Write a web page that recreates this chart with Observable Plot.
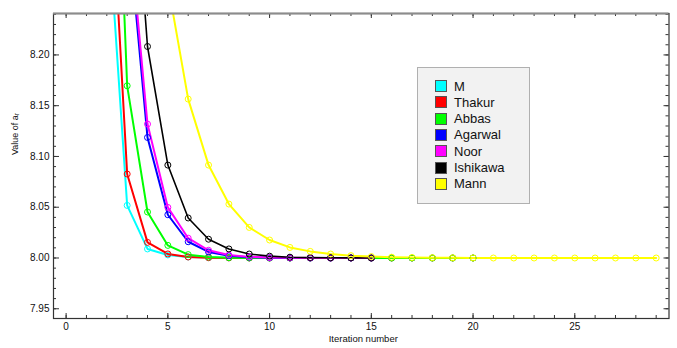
<!DOCTYPE html>
<html><head><meta charset="utf-8">
<script src="https://cdn.jsdelivr.net/npm/d3@7"></script>
<script src="https://cdn.jsdelivr.net/npm/@observablehq/plot@0.6"></script>
<style>
body{margin:0;background:#fff;}
#wrap{position:relative;width:677px;height:348px;}
#legend{position:absolute;left:417px;top:67px;width:113px;height:137px;background:#f2f2f2;border:1.5px solid #b0b0b0;box-sizing:border-box;font-family:"Liberation Sans",Arial,sans-serif;font-size:13px;color:#111;}
.item{position:absolute;left:17px;height:16px;line-height:16px;white-space:nowrap;}
.sw{display:inline-block;width:12px;height:12px;box-sizing:border-box;border:1px solid #555;vertical-align:middle;margin-right:7px;position:relative;top:-1px;}
</style>
</head><body>
<div id="wrap"><div id="chart"></div><div id="legend"></div></div>
<script>
// ---- data ----
const seriesNames = ["M", "Thakur", "Abbas", "Agarwal", "Noor", "Ishikawa", "Mann"];
const seriesColors = ["#00ffff", "#ff0000", "#00ff00", "#0000ff", "#ff00ff", "#000000", "#ffff00"];

const mIter = [2,3,4,5,6,7,8,9,10,11,12,13,14,15,16,17,18,19,20];
const mVals = [8.351,8.0518,8.0089,8.0030,8.0010,8.0004,8.0002,8.0001,8.0000,8.0000,8.0000,8.0000,8.0000,8.0000,8.0000,8.0000,8.0000,8.0000,8.0000];

const thakurIter = [2,3,4,5,6,7,8,9,10,11,12,13,14,15,16,17,18,19,20];
const thakurVals = [8.450,8.0827,8.0154,8.0040,8.0010,8.0003,8.0001,8.0000,8.0000,8.0000,8.0000,8.0000,8.0000,8.0000,8.0000,8.0000,8.0000,8.0000,8.0000];

const abbasIter = [2,3,4,5,6,7,8,9,10,11,12,13,14,15,16,17,18,19,20];
const abbasVals = [8.676,8.1696,8.0453,8.0124,8.0033,8.0010,8.0003,8.0001,8.0000,8.0000,8.0000,8.0000,8.0000,8.0000,8.0000,8.0000,8.0000,8.0000,8.0000];

const agarwalIter = [3,4,5,6,7,8,9,10,11,12,13,14,15];
const agarwalVals = [8.336,8.1187,8.0426,8.0160,8.0060,8.0022,8.0008,8.0003,8.0001,8.0000,8.0000,8.0000,8.0000];

const noorIter = [3,4,5,6,7,8,9,10,11,12,13,14,15];
const noorVals = [8.349,8.1319,8.0498,8.0195,8.0076,8.0029,8.0011,8.0004,8.0002,8.0001,8.0000,8.0000,8.0000];

const ishikawaIter = [3,4,5,6,7,8,9,10,11,12,13,14,15];
const ishikawaVals = [8.478,8.2083,8.0915,8.0394,8.0185,8.0089,8.0039,8.0018,8.0008,8.0004,8.0002,8.0001,8.0000];

const mannIter = [5,6,7,8,9,10,11,12,13,14,15,16,17,18,19,20,21,22,23,24,25,26,27,28,29];
const mannVals = [8.270,8.1565,8.0915,8.0531,8.0301,8.0177,8.0104,8.0065,8.0039,8.0023,8.0014,8.0008,8.0005,8.0003,8.0002,8.0001,8.0000,8.0000,8.0000,8.0000,8.0000,8.0000,8.0000,8.0000,8.0000];

const xTickLabels = [0, 5, 10, 15, 20, 25];
const yTickLabels = [7.95, 8.00, 8.05, 8.10, 8.15, 8.20];
const xLabel = "Iteration number";
const yLabel = "Value of a\u1d63";

// ---- build table ----
const iters = [mIter, thakurIter, abbasIter, agarwalIter, noorIter, ishikawaIter, mannIter];
const vals = [mVals, thakurVals, abbasVals, agarwalVals, noorVals, ishikawaVals, mannVals];
const rows = [];
seriesNames.forEach((s, i) => iters[i].forEach((x, j) => rows.push({series: s, x, y: vals[i][j]})));

const W = 677, H = 348, mL = 53, mR = 8.5, mT = 13, mB = 30;
const innerH = H - mT - mB, innerW = W - mL - mR;
const xDom = [-0.62, 29.63], yDom = [7.9404, 8.2408];

const xMinor = d3.range(0, 30);
const xMajor = xMinor.filter(d => d % 5 === 0);
const yMinor = d3.range(795, 825).map(d => d / 100);
const yMajor = yMinor.filter(d => Math.round(d * 100) % 5 === 0);
const tickC = "#333";

const lineMarks = seriesNames.map((s, i) => Plot.line(rows.filter(r => r.series === s), {
  x: "x", y: "y", stroke: seriesColors[i], strokeWidth: s === "Ishikawa" ? 1.6 : 2, clip: true
}));
const dotMarks = seriesNames.map((s, i) => Plot.dot(rows.filter(r => r.series === s), {
  x: "x", y: "y", r: 3, stroke: seriesColors[i], strokeWidth: 1, fill: "none", clip: true
}));

const chart = Plot.plot({
  width: W, height: H,
  marginLeft: mL, marginRight: mR, marginTop: mT, marginBottom: mB,
  style: {fontFamily: "'Liberation Sans', Arial, sans-serif", fontSize: "10px", color: "#111", background: "#fff"},
  x: {domain: xDom, axis: null},
  y: {domain: yDom, axis: null},
  marks: [
    ...lineMarks,
    ...dotMarks,
    // inward frame ticks
    Plot.tickX(xMinor, {x: d => d, insetTop: innerH - 3, stroke: tickC}),
    Plot.tickX(xMajor, {x: d => d, insetTop: innerH - 5, stroke: tickC}),
    Plot.tickX(xMinor, {x: d => d, insetBottom: innerH - 3, stroke: tickC}),
    Plot.tickX(xMajor, {x: d => d, insetBottom: innerH - 5, stroke: tickC}),
    Plot.tickY(yMinor, {y: d => d, insetRight: innerW - 3, stroke: tickC}),
    Plot.tickY(yMajor, {y: d => d, insetRight: innerW - 6, stroke: tickC}),
    Plot.tickY(yMinor, {y: d => d, insetLeft: innerW - 3, stroke: tickC}),
    Plot.tickY(yMajor, {y: d => d, insetLeft: innerW - 5, stroke: tickC}),
    Plot.frame({stroke: "#333", strokeWidth: 1.2}),
    Plot.ruleY([yDom[1]], {stroke: "#8c8c8c", strokeWidth: 2}),
    Plot.axisX(xTickLabels, {tickSize: 0, tickPadding: 4, label: null, fontSize: 10}),
    Plot.axisY(yTickLabels, {tickSize: 0, tickPadding: 4, label: null, tickFormat: d3.format(".2f"), fontSize: 10}),
    Plot.text([xLabel], {frameAnchor: "bottom", dx: 2, dy: 23, fontSize: 9.5, fill: "#111"}),
    Plot.text([yLabel], {frameAnchor: "left", rotate: -90, dx: -38, dy: -11, fontSize: 9, fill: "#111"})
  ]
});
document.getElementById("chart").appendChild(chart);

const leg = document.getElementById("legend");
seriesNames.forEach((s, i) => {
  const it = document.createElement("div");
  it.className = "item";
  it.style.top = (10.5 + i * 16.33) + "px";
  it.innerHTML = `<span class="sw" style="background:${seriesColors[i]}"></span>${s}`;
  leg.appendChild(it);
});
</script>
</body></html>
